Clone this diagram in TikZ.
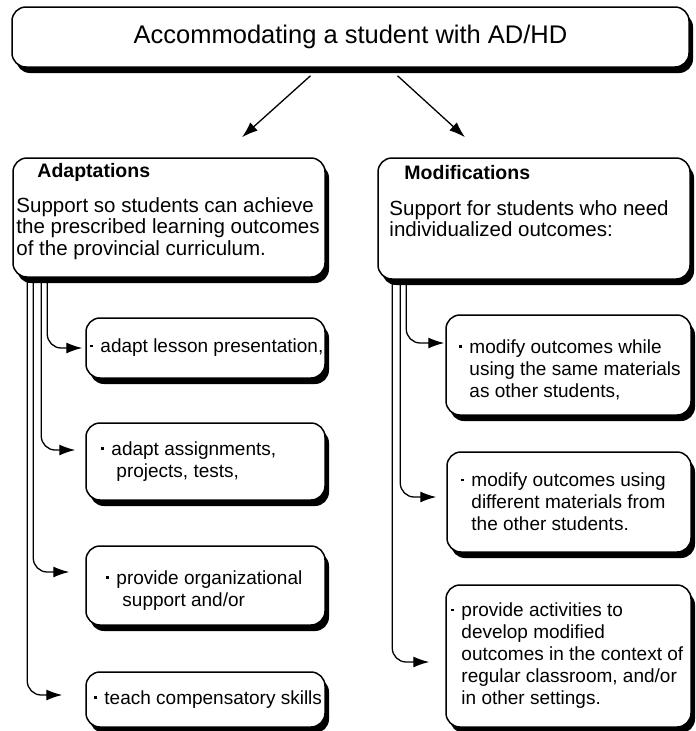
\documentclass[tikz,border=0pt]{standalone}
\usepackage{fontspec}
\setmainfont{Liberation Sans}
\usetikzlibrary{arrows.meta, positioning, shadows}

\newcommand{\sqbul}{\makebox[10pt][l]{\raisebox{0.3em}{\rule{2.5pt}{2.5pt}}}}

\tikzset{
  box/.style={draw, line width=1.5pt, fill=white, rounded corners=14pt, inner sep=0pt,
    drop shadow={shadow xshift=4pt, shadow yshift=-6pt, fill=black, opacity=1}},
  txt/.style={inner sep=0pt, align=left, font=\fontsize{19}{22}\selectfont},
  body/.style={inner sep=0pt, align=left, font=\fontsize{20.5}{21.5}\selectfont},
  head/.style={inner sep=0pt, font=\bfseries\fontsize{19.5}{22}\selectfont},
  arr/.style={line width=1.3pt, ->},
  branch/.style={arr, rounded corners=14pt},
}

\begin{document}
\begin{tikzpicture}[x=1pt, y=1pt, >={Latex[length=16pt, width=11pt]}]
  \useasboundingbox (0,0) rectangle (696,-731);

  % boxes
  \node[box, minimum width=677pt, minimum height=60pt, font=\fontsize{25.5}{28}\selectfont]
    (title) at (350.5,-37) {Accommodating a student with AD/HD};
  \node[box, minimum width=312pt, minimum height=119pt] (adapt) at (169,-217.5) {};
  \node[box, minimum width=312pt, minimum height=121pt] (modif) at (534,-218.5) {};

  \node[box, minimum width=239pt, minimum height=60pt] (l1) at (205.5,-348) {};
  \node[box, minimum width=239pt, minimum height=77pt] (l2) at (205.5,-461.5) {};
  \node[box, minimum width=239pt, minimum height=79pt] (l3) at (205.5,-585.5) {};
  \node[box, minimum width=239pt, minimum height=55pt] (l4) at (205.5,-699.5) {};

  \node[box, minimum width=245pt, minimum height=100pt] (r1) at (568.5,-365) {};
  \node[box, minimum width=244pt, minimum height=100pt] (r2) at (569,-502) {};
  \node[box, minimum width=245pt, minimum height=142pt] (r3) at (568.5,-656) {};

  % texts
  \node[head, right=25pt of adapt.north west, yshift=-15pt] (adapthead) {Adaptations};
  \node[body, right=4pt of adapt.west, yshift=-11pt] (adaptbody)
    {Support so students can achieve\\the prescribed learning outcomes\\of the provincial curriculum.};
  \node[head, right=27pt of modif.north west, yshift=-15pt] (modifhead) {Modifications};
  \node[body, right=12pt of modif.west] (modifbody)
    {Support for students who need\\individualized outcomes:};

  \node[txt, right=5pt of l1.west] (l1text) {\sqbul adapt lesson presentation,};
  \node[txt, right=16pt of l2.west] (l2text) {\sqbul adapt assignments,\\\hspace*{15pt}projects, tests,};
  \node[txt, right=21pt of l3.west, yshift=-5pt] (l3text) {\sqbul provide organizational\\\hspace*{16pt}support and/or};
  \node[txt, right=9pt of l4.west] (l4text) {\sqbul teach compensatory skills};

  \node[txt, right=14pt of r1.west, yshift=-5pt] (r1text)
    {\sqbul modify outcomes while\\\hspace*{10pt}using the same materials\\\hspace*{10pt}as other students,};
  \node[txt, right=15pt of r2.west] (r2text)
    {\sqbul modify outcomes using\\\hspace*{10pt}different materials from\\\hspace*{10pt}the other students.};
  \node[txt, right=6pt of r3.west] (r3text)
    {\sqbul provide activities to\\\hspace*{10pt}develop modified\\\hspace*{10pt}outcomes in the context of\\\hspace*{10pt}regular classroom, and/or\\\hspace*{10pt}in other settings.};

  % arrows
  \draw[arr] ([xshift=-40pt, yshift=-8pt]title.south) -- ([xshift=73pt, yshift=20pt]adapt.north);
  \draw[arr] ([xshift=47pt, yshift=-8pt]title.south) -- ([xshift=-69pt, yshift=20pt]modif.north);

  \draw[branch, shorten >=3pt] ([xshift=35pt]adapt.south west) |- (l1.west);
  \draw[branch, shorten >=10pt] ([xshift=29pt]adapt.south west) |- ([yshift=11.5pt]l2.west);
  \draw[branch, shorten >=16pt] ([xshift=21pt]adapt.south west) |- ([yshift=13.5pt]l3.west);
  \draw[branch, shorten >=23pt] ([xshift=15pt]adapt.south west) |- ([yshift=4.5pt]l4.west);

  \draw[branch, shorten >=1pt] ([xshift=29pt]modif.south west) |- ([yshift=22pt]r1.west);
  \draw[branch, shorten >=10pt] ([xshift=23pt]modif.south west) |- ([yshift=5pt]r2.west);
  \draw[branch, shorten >=16pt] ([xshift=15pt]modif.south west) |- ([yshift=-6pt]r3.west);
\end{tikzpicture}
\end{document}
